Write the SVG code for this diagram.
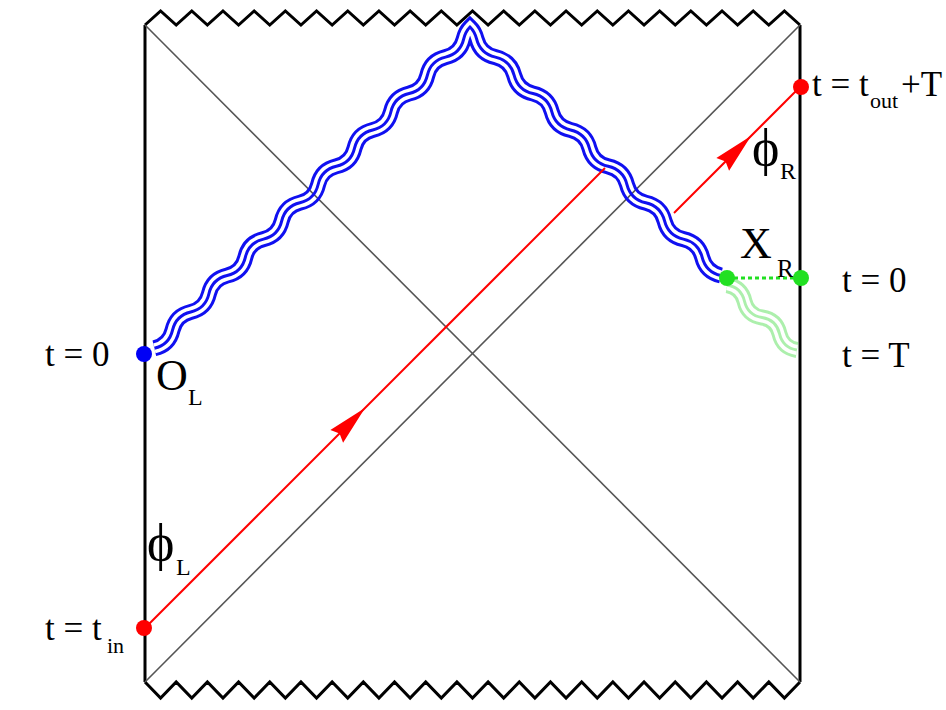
<svg xmlns="http://www.w3.org/2000/svg" width="946" height="710" viewBox="0 0 946 710">
<style>
 .lbl{font-family:"Liberation Serif","Times New Roman","DejaVu Serif",serif;fill:#000}
 .big{font-size:35px}
 .sub{font-size:22px}
 .frame{stroke:#000;stroke-width:3;fill:none;stroke-linejoin:miter}
 .diag{stroke:#555;stroke-width:1.6}
 .ray{stroke:#f00;stroke-width:2;fill:none}
 .arrow{fill:#f00}
 .wv{fill:none;stroke-linejoin:miter;stroke-miterlimit:4}
</style>
<defs>
 <path id="wb" d="M154.33,348.33 q14.76,-3.44 18.2,-18.2 t18.2,-18.2 t18.2,-18.2 t18.2,-18.2 t18.2,-18.2 t18.2,-18.2 t18.2,-18.2 t18.2,-18.2 t18.2,-18.2 t18.2,-18.2 t18.2,-18.2 t18.2,-18.2 t18.2,-18.2 t18.2,-18.2 t18.2,-18.2 t18.2,-18.2 t18.2,-18.2 q1.72,-7.38 6.27,-11.93 q4.7,4.55 6.57,11.93 q3.74,14.76 18.8,18.2 t18.8,18.2 t18.8,18.2 t18.8,18.2 t18.8,18.2 t18.8,18.2 t18.8,18.2 t18.8,18.2 t18.8,18.2 t18.8,18.2 t18.8,18.2 t18.8,18.2 t18.8,18.2"/>
 <path id="wg" d="M727,285 q14.19,2.26 17.5,16.25 t17.5,16.25 t17.5,16.25 t17.5,16.25"/>
 <mask id="gaps" maskUnits="userSpaceOnUse" x="0" y="0" width="946" height="710">
  <rect width="946" height="710" fill="#fff"/>
  <g class="wv">
   <use href="#wb" stroke="#000" stroke-width="10"/>
   <use href="#wg" stroke="#000" stroke-width="10"/>
   <use href="#wb" stroke="#fff" stroke-width="3"/>
   <use href="#wg" stroke="#fff" stroke-width="3"/>
  </g>
 </mask>
 <path id="ah" d="M0,0 L-40,-9 L-36,0 L-40,9 Z"/>
</defs>
<rect width="946" height="710" fill="#fff"/>

<g id="frame">
 <path class="frame" d="M145,25 V682 M800,25 V682"/>
 <path class="frame" d="M145,25 l15.595,-14 15.595,14 15.595,-14 15.595,14 15.595,-14 15.595,14 15.595,-14 15.595,14 15.595,-14 15.595,14 15.595,-14 15.595,14 15.595,-14 15.595,14 15.595,-14 15.595,14 15.595,-14 15.595,14 15.595,-14 15.595,14 15.595,-14 15.595,14 15.595,-14 15.595,14 15.595,-14 15.595,14 15.595,-14 15.595,14 15.595,-14 15.595,14 15.595,-14 15.595,14 15.595,-14 15.595,14 15.595,-14 15.595,14 15.595,-14 15.595,14 15.595,-14 15.595,14 15.595,-14 15.595,14"/>
 <path class="frame" d="M145,682 l15.595,16 15.595,-16 15.595,16 15.595,-16 15.595,16 15.595,-16 15.595,16 15.595,-16 15.595,16 15.595,-16 15.595,16 15.595,-16 15.595,16 15.595,-16 15.595,16 15.595,-16 15.595,16 15.595,-16 15.595,16 15.595,-16 15.595,16 15.595,-16 15.595,16 15.595,-16 15.595,16 15.595,-16 15.595,16 15.595,-16 15.595,16 15.595,-16 15.595,16 15.595,-16 15.595,16 15.595,-16 15.595,16 15.595,-16 15.595,16 15.595,-16 15.595,16 15.595,-16 15.595,16 15.595,-16"/>
</g>

<g id="horizons">
 <line class="diag" x1="145" y1="25" x2="800" y2="682"/>
 <line class="diag" x1="800" y1="25" x2="145" y2="682"/>
</g>

<g id="connectors">
 <g id="shock-wave">
  <use href="#wb" class="wv" stroke="#1010f0" stroke-width="16" mask="url(#gaps)"/>
 </g>
 <g id="shock-wave-faint" opacity="0.32">
  <use href="#wg" class="wv" stroke="#00d000" stroke-width="16" mask="url(#gaps)"/>
 </g>
 <g id="ray-phiL">
  <line class="ray" x1="145" y1="628" x2="605" y2="168"/>
  <use href="#ah" class="arrow" transform="translate(365,408) rotate(-45)"/>
 </g>
 <g id="ray-phiR">
  <line class="ray" x1="674" y1="213" x2="800" y2="87"/>
  <use href="#ah" class="arrow" transform="translate(751,136) rotate(-45)"/>
 </g>
 <line id="xr-link" x1="727" y1="278" x2="801" y2="278" stroke="#22e022" stroke-width="3" stroke-dasharray="4,3"/>
</g>

<g id="node-OL">
 <circle cx="144" cy="354" r="8" fill="#0000f5"/>
 <text class="lbl big" x="45" y="366">t = 0</text>
 <text class="lbl" x="156" y="390" font-size="44">O</text>
 <text class="lbl" x="188" y="405" font-size="24">L</text>
</g>

<g id="node-tin">
 <circle cx="144" cy="628" r="8" fill="#f00"/>
 <text class="lbl big" x="45" y="640">t = t</text>
 <text class="lbl sub" x="107" y="653">in</text>
</g>

<g id="label-phiL">
 <text class="lbl" x="147" y="560" font-size="52">ϕ</text>
 <text class="lbl" x="176" y="575" font-size="24">L</text>
</g>

<g id="node-tout">
 <circle cx="801" cy="87" r="8" fill="#f00"/>
 <text class="lbl big" x="812" y="96">t = t</text>
 <text class="lbl sub" x="870" y="108">out</text>
 <text class="lbl big" x="901" y="96">+T</text>
</g>

<g id="label-phiR">
 <text class="lbl" x="752" y="165" font-size="52">ϕ</text>
 <text class="lbl" x="780" y="179" font-size="24">R</text>
</g>

<g id="node-XR">
 <circle cx="727" cy="278" r="8" fill="#22e022"/>
 <text class="lbl" x="740" y="258" font-size="44">X</text>
 <text class="lbl" x="777" y="277" font-size="25">R</text>
</g>

<g id="node-right-t0">
 <circle cx="801" cy="278" r="8" fill="#22e022"/>
 <text class="lbl big" x="842" y="292">t = 0</text>
</g>

<g id="label-tT">
 <text class="lbl big" x="842" y="367">t = T</text>
</g>
</svg>
